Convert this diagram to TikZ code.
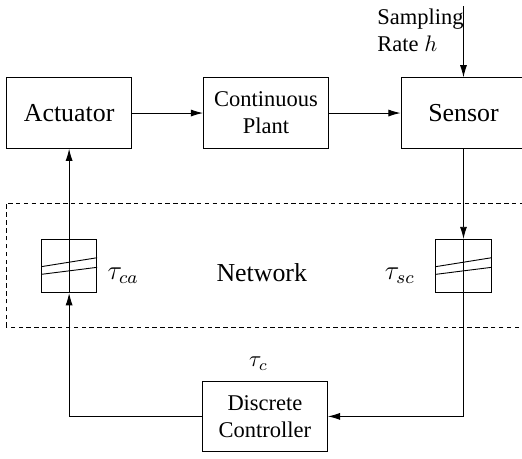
\documentclass[tikz,border=0pt]{standalone}
\usepackage{fontspec}
\setmainfont{Liberation Serif}
\usetikzlibrary{arrows.meta,positioning,calc}
\tikzset{%
  % blocks
  block/.style={draw, line width=0.45pt, align=center, minimum width=1.95cm, minimum height=1.1cm, inner sep=2pt},
  delay/.style={draw, line width=0.45pt, minimum width=0.86cm, minimum height=0.83cm, inner sep=0pt},
  big/.style={font=\fontsize{11.5}{14}\selectfont},
  small/.style={font=\fontsize{10}{12}\selectfont},
  % edge styles
  sig/.style={-{Latex[length=1.9mm,width=1.1mm]}, line width=0.4pt},
  wire/.style={line width=0.4pt},
  net/.style={draw, line width=0.4pt, dash pattern=on 2pt off 1.5pt},
}
\newcommand{\delaylines}[1]{%
  % #1 = name of the delay box
  \draw[wire] ($(#1.west)+(0,-0.01)$) -- ($(#1.east)+(0,0.13)$);
  \draw[wire] ($(#1.west)+(0,-0.13)$) -- ($(#1.east)+(0,-0.02)$);
}

\begin{document}
\begin{tikzpicture}
  \useasboundingbox (0,0) rectangle (8.156,7.156);

  % Plant loop
  \node[block, big] (act) at (1.08,5.39) {Actuator};
  \node[block, small, right=1.11cm of act] (plant) {Continuous\\Plant};
  \node[block, big, right=1.12cm of plant] (sensor) {Sensor};
  \node[block, small] (ctrl) at (4.14,0.65) {Discrete\\Controller};
  \node[small, above=0.04cm of ctrl, xshift=-0.1cm] (tc) {$\tau_c$};

  % Sampling input
  \node[small, align=left, anchor=north west, inner sep=0pt] (samp) at (5.89,7.03) {Sampling\\Rate $h$};
  \coordinate (hin) at (sensor.north |- 0,7.06);
  \draw[sig] (hin) -- (sensor);

  % Network
  \draw[net] (0.094,2.047) rectangle (8.5,3.984);
  \node[big] (netw) at (4.09,2.89) {Network};
  \node[delay, below=1.41cm of act] (dca) {};
  \node[delay, below=1.41cm of sensor] (dsc) {};
  \delaylines{dca}
  \delaylines{dsc}
  \node[big, right=0.04cm of dca, yshift=-0.15cm] (tca) {$\tau_{ca}$};
  \node[big, left=0.2cm of dsc, yshift=-0.15cm] (tsc) {$\tau_{sc}$};

  % Signals
  \draw[sig] (act) -- (plant);
  \draw[sig] (plant) -- (sensor);
  \draw[sig] (sensor) -- (dsc.north);
  \draw[wire] (dsc.north) -- (dsc.south);
  \draw[sig] (dsc.south) |- (ctrl.east);
  \draw[sig] (ctrl.west) -| (dca.south);
  \draw[wire] (dca.south) -- (dca.north);
  \draw[sig] (dca.north) -- (act);
\end{tikzpicture}
\end{document}
